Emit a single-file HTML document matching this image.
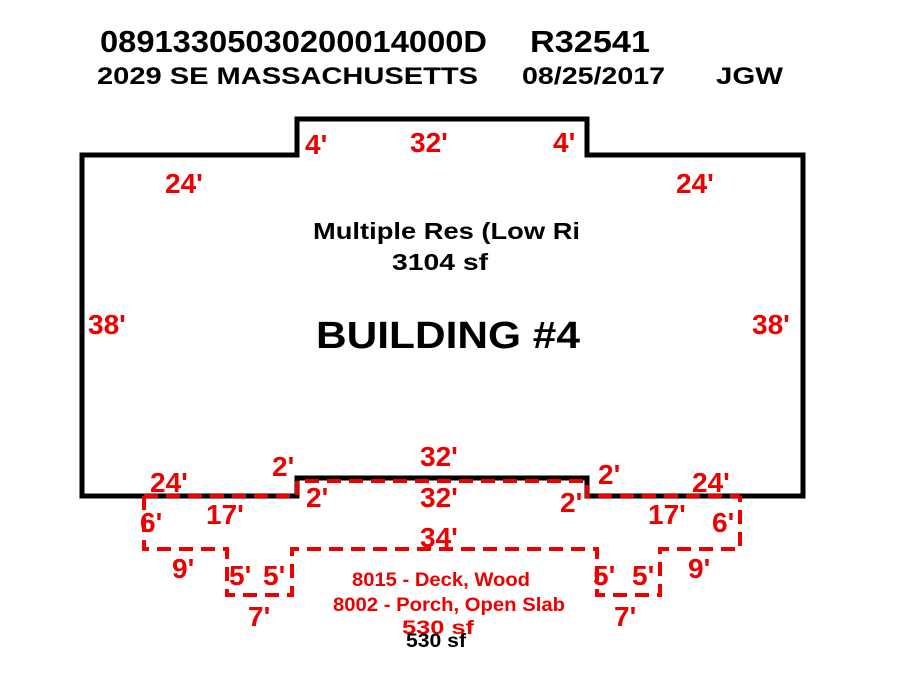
<!DOCTYPE html>
<html><head><style>
body{margin:0;background:#fff;}
svg text{font-family:"Liberation Sans",sans-serif;font-weight:bold;}
</style></head><body>
<svg width="900" height="675" viewBox="0 0 900 675" xmlns="http://www.w3.org/2000/svg">
<text x="100" y="52" font-size="31" fill="#000" textLength="387" lengthAdjust="spacingAndGlyphs">08913305030200014000D</text>
<text x="530" y="52" font-size="31" fill="#000" textLength="120" lengthAdjust="spacingAndGlyphs">R32541</text>
<text x="97" y="84" font-size="24" fill="#000" textLength="381" lengthAdjust="spacingAndGlyphs">2029 SE MASSACHUSETTS</text>
<text x="522" y="84" font-size="24" fill="#000" textLength="143" lengthAdjust="spacingAndGlyphs">08/25/2017</text>
<text x="716" y="84" font-size="24" fill="#000" textLength="67" lengthAdjust="spacingAndGlyphs">JGW</text>
<path d="M82,496 L82,155 L297,155 L297,119 L587,119 L587,155 L803,155 L803,496 L587,496 L587,478 L297,478 L297,496 Z" fill="none" stroke="#000" stroke-width="5"/>
<g fill="none" stroke="#e00" stroke-width="4" stroke-dasharray="14,8">
<path d="M144,496 L297,496 L297,481 L587,481 L587,496 L740,496"/>
<path d="M144,496 L144,549 L227,549 L227,595 L292,595 L292,549 L597,549 L597,595 L660,595 L660,549 L740,549 L740,496"/>
</g>
<g fill="#e00" font-size="28">
<text x="305" y="154">4'</text><text x="410" y="152">32'</text><text x="553" y="152">4'</text>
<text x="165" y="193">24'</text><text x="676" y="193">24'</text>
<text x="88" y="334">38'</text><text x="752" y="334">38'</text>
<text x="272" y="476">2'</text><text x="420" y="466">32'</text><text x="598" y="484">2'</text>
<text x="150" y="492">24'</text><text x="692" y="492">24'</text>
<text x="306" y="507">2'</text><text x="420" y="507">32'</text><text x="560" y="512">2'</text>
<text x="140" y="532">6'</text><text x="206" y="524">17'</text><text x="648" y="524">17'</text><text x="712" y="532">6'</text>
<text x="420" y="547">34'</text>
<text x="172" y="578">9'</text><text x="229" y="585">5'</text><text x="263" y="585">5'</text>
<text x="593" y="585">5'</text><text x="632" y="585">5'</text><text x="688" y="578">9'</text>
<text x="248" y="626">7'</text><text x="614" y="626">7'</text>
</g>
<g fill="#e00" font-size="19">
<text x="352" y="586" textLength="178" lengthAdjust="spacingAndGlyphs">8015 - Deck, Wood</text>
<text x="333" y="611" textLength="232" lengthAdjust="spacingAndGlyphs">8002 - Porch, Open Slab</text>
<text x="402" y="634" textLength="72" lengthAdjust="spacingAndGlyphs">530 sf</text>
</g>
<text x="406" y="647" font-size="19" fill="#000" textLength="60" lengthAdjust="spacingAndGlyphs">530 sf</text>
<g fill="#000">
<text x="313" y="239" font-size="23" textLength="267" lengthAdjust="spacingAndGlyphs">Multiple Res (Low Ri</text>
<text x="392" y="270" font-size="23" textLength="96" lengthAdjust="spacingAndGlyphs">3104 sf</text>
<text x="316" y="348" font-size="38" textLength="264" lengthAdjust="spacingAndGlyphs">BUILDING #4</text>
</g>
</svg>
</body></html>
